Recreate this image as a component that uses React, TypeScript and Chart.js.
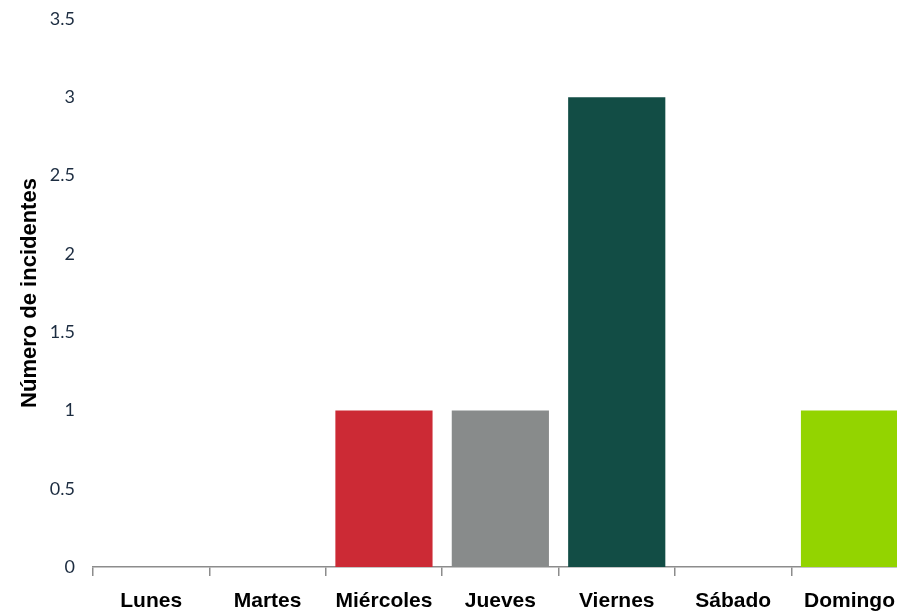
import React, { useEffect, useRef } from "react";
import { Chart, registerables } from "chart.js";

Chart.register(...registerables);

const categories = ["Lunes", "Martes", "Miércoles", "Jueves", "Viernes", "Sábado", "Domingo"];
const incidents = [0, 0, 1, 1, 3, 0, 1];
const barColors = ["#cc2a35", "#cc2a35", "#cc2a35", "#888b8b", "#124d45", "#124d45", "#93d400"];
const yTitle = "Número de incidentes";

export default function App() {
  const ref = useRef<HTMLCanvasElement | null>(null);
  useEffect(() => {
    if (!ref.current) return;
    const chart = new Chart(ref.current, {
      type: "bar",
      data: {
        labels: categories,
        datasets: [
          {
            data: incidents,
            backgroundColor: barColors,
            borderWidth: 0,
            barPercentage: 0.835,
            categoryPercentage: 1,
          },
        ],
      },
      options: {
        responsive: false,
        animation: false,
        layout: { padding: { top: 0, left: 0, right: 0, bottom: 0 } },
        plugins: { legend: { display: false }, tooltip: { enabled: false } },
        scales: {
          x: {
            grid: {
              offset: true,
              drawOnChartArea: false,
              drawTicks: true,
              tickLength: 9,
              color: "#8c8c8c",
              lineWidth: 1.5,
            },
            border: { display: true, color: "#8c8c8c", width: 1.5 },
            ticks: {
              color: "#000000",
              padding: 13,
              maxRotation: 0,
              autoSkip: false,
              font: { family: "Liberation Sans, Arial, sans-serif", size: 21, weight: "bold" },
            },
            afterFit: (axis: any) => {
              axis.height = 44;
            },
          },
          y: {
            min: 0,
            max: 3.5,
            grid: { display: false, drawTicks: false },
            border: { display: false },
            ticks: {
              stepSize: 0.5,
              padding: 18,
              color: "#1c2c40",
              font: { family: "Lato, sans-serif", size: 18 },
              callback: (v: any) => String(Number(v)),
            },
            title: {
              display: true,
              text: yTitle,
              color: "#000000",
              padding: { top: 17, bottom: 0 },
              font: { family: "Liberation Sans, Arial, sans-serif", size: 22, weight: "bold" },
            },
            afterFit: (axis: any) => {
              axis.width = 93;
              axis.paddingTop = 19;
              axis.paddingBottom = 0;
            },
          },
        },
      },
    });
    return () => chart.destroy();
  }, []);
  return (
    <div
      style={{
        position: "fixed",
        left: 0,
        top: 0,
        width: 897,
        height: 611,
        overflow: "hidden",
        background: "#ffffff",
      }}
    >
      <canvas ref={ref} width={908} height={611} style={{ display: "block" }} />
    </div>
  );
}
